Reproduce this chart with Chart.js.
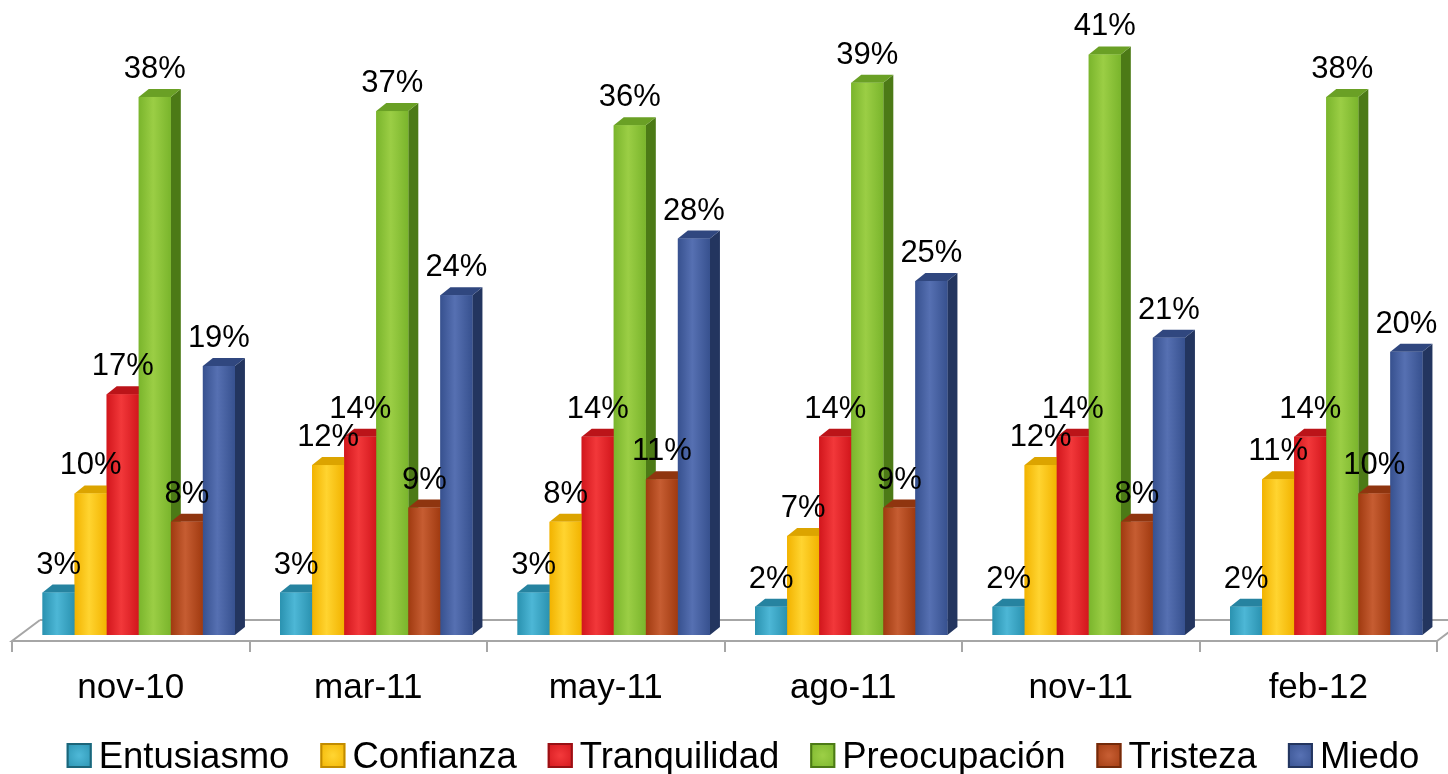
<!DOCTYPE html>
<html>
<head>
<meta charset="utf-8">
<script src="https://cdn.jsdelivr.net/npm/chart.js@4.4.1/dist/chart.umd.min.js"></script>
<style>
  html, body { margin: 0; padding: 0; background: #fff; }
  #wrap { width: 1448px; height: 774px; }
</style>
</head>
<body>
<div id="wrap"><canvas id="chart"></canvas></div>
<script>
const categories = ["nov-10", "mar-11", "may-11", "ago-11", "nov-11", "feb-12"];
const seriesNames = ["Entusiasmo", "Confianza", "Tranquilidad", "Preocupación", "Tristeza", "Miedo"];
const entusiasmo = [3, 3, 3, 2, 2, 2];
const confianza = [10, 12, 8, 7, 12, 11];
const tranquilidad = [17, 14, 14, 14, 14, 14];
const preocupacion = [38, 37, 36, 39, 41, 38];
const tristeza = [8, 9, 11, 9, 8, 10];
const miedo = [19, 24, 28, 25, 21, 20];

// colours for each series: front base, highlight, side, top
const palette = [
    { base: "#2a92b0", light: "#4db7d6", side: "#1c6579", top: "#2683a0" },
    { base: "#f2b300", light: "#ffd430", side: "#c28c00", top: "#dca400" },
    { base: "#d2161c", light: "#f2383a", side: "#981014", top: "#bb1419" },
    { base: "#7ab52c", light: "#9bce45", side: "#4c7a16", top: "#6aa025" },
    { base: "#a03a10", light: "#c65d32", side: "#732a0a", top: "#8f350f" },
    { base: "#37518f", light: "#5670b2", side: "#23355f", top: "#30477f" }
];

const SHIFT = 8;       // bars sit a little right of the category centre
const DX = 10, DY = 8; // depth of each bar
const FONT = "'Liberation Sans', Arial, sans-serif";

const values = [entusiasmo, confianza, tranquilidad, preocupacion, tristeza, miedo];

const bars3d = {
    id: "bars3d",
    beforeDatasetsDraw(chart) {
        const { ctx, scales: { x, y } } = chart;
        const fy = y.getPixelForValue(0) + 6;
        const by = fy - 21;
        ctx.save();
        ctx.strokeStyle = "#a6a6a6";
        ctx.lineWidth = 2;
        ctx.beginPath();
        ctx.moveTo(x.left + 28, by);
        ctx.lineTo(x.left, fy);
        ctx.lineTo(x.right, fy);
        ctx.lineTo(x.right + 28, by);
        ctx.moveTo(x.left + 28, by);
        ctx.lineTo(x.right + 40, by);
        const step = (x.right - x.left) / categories.length;
        for (let i = 0; i <= categories.length; i++) {
            const tx = Math.round(x.left + i * step);
            ctx.moveTo(tx, fy);
            ctx.lineTo(tx, fy + 11);
        }
        ctx.stroke();
        ctx.restore();

        ctx.save();
        ctx.translate(SHIFT, 0);
    },
    afterDatasetsDraw(chart) {
        const ctx = chart.ctx;
        chart.data.datasets.forEach(function (ds, i) {
            const meta = chart.getDatasetMeta(i);
            const c = palette[i];
            meta.data.forEach(function (bar) {
                const p = bar.getProps(["x", "y", "base", "width"], true);
                const l = p.x - p.width / 2, r = p.x + p.width / 2;
                const t = p.y, b = p.base;
                // side
                ctx.fillStyle = c.side;
                ctx.beginPath();
                ctx.moveTo(r, b);
                ctx.lineTo(r + DX, b - DY);
                ctx.lineTo(r + DX, t - DY);
                ctx.lineTo(r, t);
                ctx.closePath();
                ctx.fill();
                // top
                ctx.fillStyle = c.top;
                ctx.beginPath();
                ctx.moveTo(l, t);
                ctx.lineTo(l + DX, t - DY);
                ctx.lineTo(r + DX, t - DY);
                ctx.lineTo(r, t);
                ctx.closePath();
                ctx.fill();
                // front
                const g = ctx.createLinearGradient(l, 0, r, 0);
                g.addColorStop(0, c.base);
                g.addColorStop(0.45, c.light);
                g.addColorStop(1, c.base);
                ctx.fillStyle = g;
                ctx.fillRect(l, t, r - l, b - t);
            });
        });

        // value labels
        ctx.fillStyle = "#000";
        ctx.font = "31px " + FONT;
        ctx.textAlign = "center";
        ctx.textBaseline = "alphabetic";
        chart.data.datasets.forEach(function (ds, i) {
            chart.getDatasetMeta(i).data.forEach(function (bar, j) {
                ctx.fillText(ds.data[j] + "%", bar.x, bar.y - 19);
            });
        });
        ctx.restore();

        // legend
        ctx.save();
        ctx.font = "36.5px " + FONT;
        ctx.textAlign = "left";
        ctx.textBaseline = "alphabetic";
        const box = 25, gap = 7, spacing = 31;
        let total = 0;
        seriesNames.forEach(function (n, i) {
            total += box + gap + ctx.measureText(n).width + (i < seriesNames.length - 1 ? spacing : 0);
        });
        let lx = 743 - total / 2;
        const ly = 743;
        seriesNames.forEach(function (n, i) {
            const c = palette[i];
            const g = ctx.createRadialGradient(lx + box / 2, ly + box / 2, 1, lx + box / 2, ly + box / 2, box / 1.4);
            g.addColorStop(0, c.light);
            g.addColorStop(1, c.base);
            ctx.fillStyle = g;
            ctx.fillRect(lx, ly, box, box);
            ctx.strokeStyle = c.side;
            ctx.lineWidth = 2;
            ctx.strokeRect(lx + 1, ly + 1, box - 2, box - 2);
            ctx.fillStyle = "#000";
            ctx.fillText(n, lx + box + gap, ly + box);
            lx += box + gap + ctx.measureText(n).width + spacing;
        });
        ctx.restore();
    }
};

new Chart(document.getElementById("chart"), {
    type: "bar",
    data: {
        labels: categories,
        datasets: seriesNames.map(function (name, i) {
            return {
                label: name,
                data: values[i],
                backgroundColor: palette[i].base,
                borderWidth: 0,
                clip: false
            };
        })
    },
    options: {
        responsive: true,
        maintainAspectRatio: false,
        animation: false,
        datasets: { bar: { categoryPercentage: 0.81, barPercentage: 1 } },
        layout: { padding: { top: 12, left: 12, right: 11, bottom: 33 } },
        plugins: {
            legend: { display: false },
            tooltip: { enabled: false }
        },
        scales: {
            x: {
                grid: { display: false, drawTicks: false },
                border: { display: false },
                ticks: { color: "#000", font: { family: FONT, size: 35 }, padding: 32 }
            },
            y: {
                display: false,
                min: 0,
                max: 44
            }
        }
    },
    plugins: [bars3d]
});
</script>
</body>
</html>
